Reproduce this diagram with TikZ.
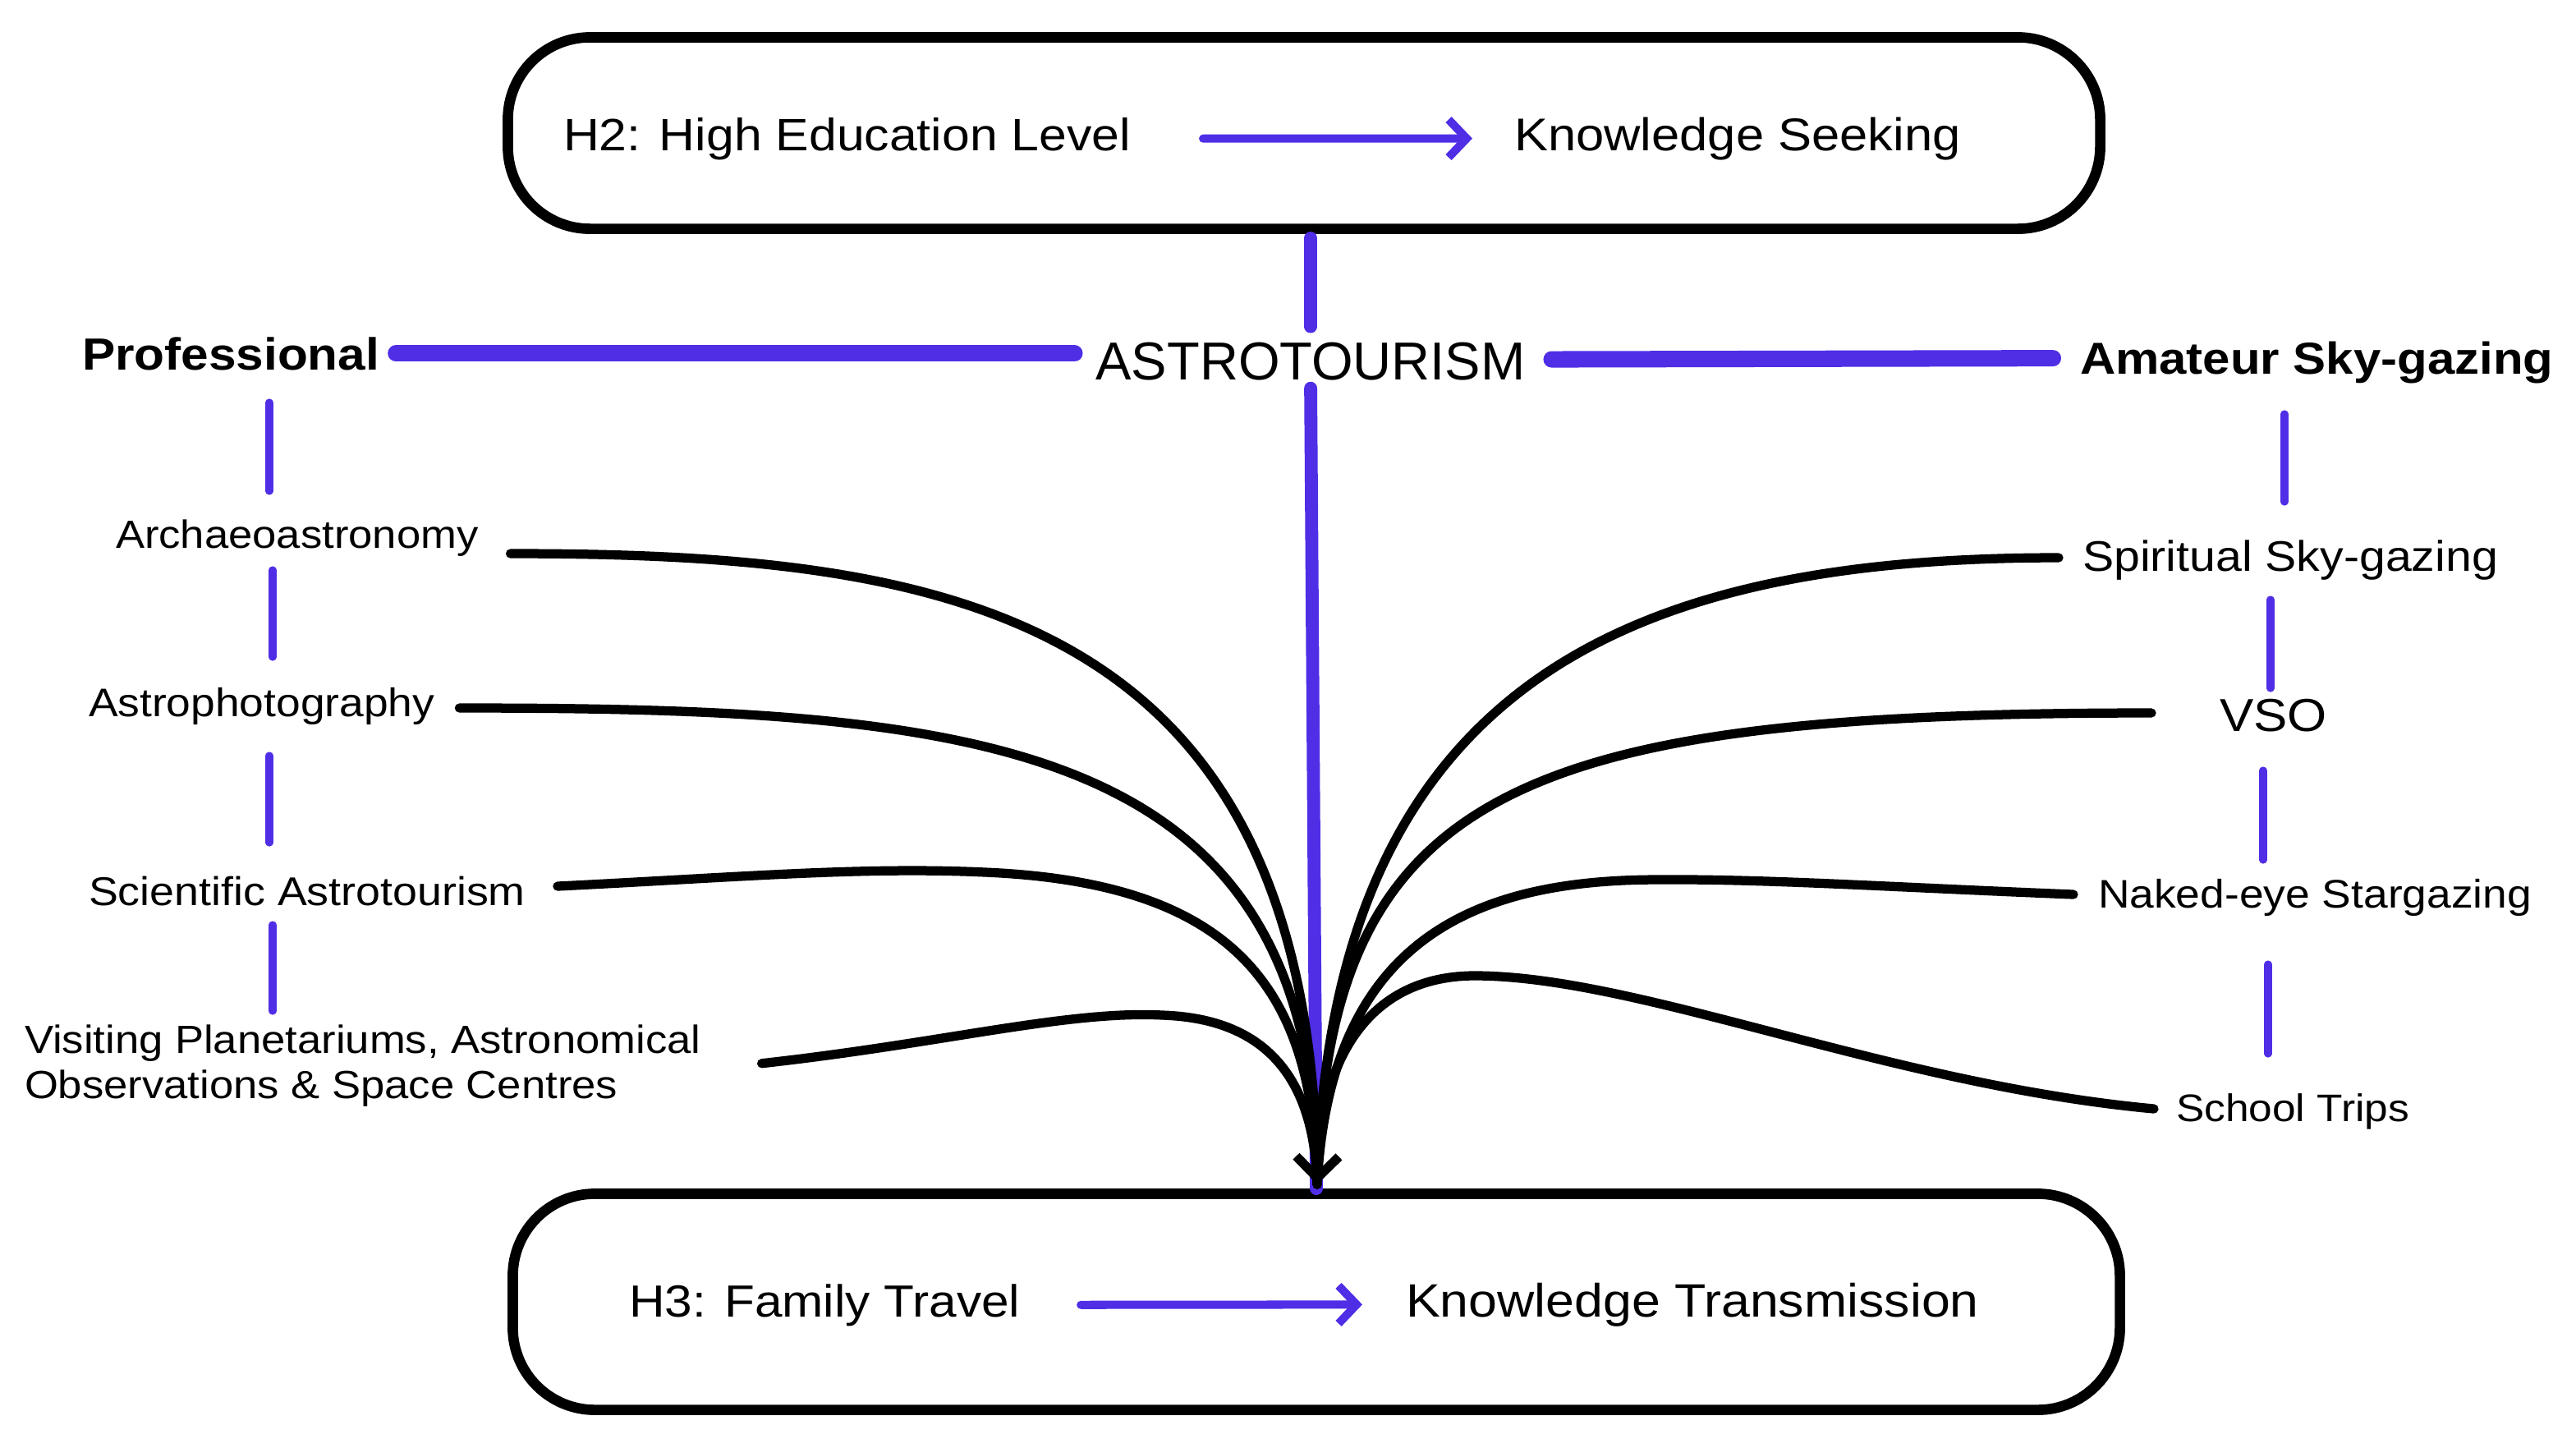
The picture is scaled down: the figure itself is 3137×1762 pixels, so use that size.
\documentclass[tikz,border=0pt]{standalone}
\usepackage{fontspec}
\setmainfont{Liberation Sans}[FakeStretch=1.1]
\usetikzlibrary{arrows.meta,calc}
\definecolor{vio}{RGB}{80,46,230}
\newcommand\fsz[1]{\fontsize{#1pt}{#1pt}\selectfont}
\begin{document}
\begin{tikzpicture}[x=0.01cm,y=-0.01cm,
  lbl/.style={inner sep=0pt,outer sep=0pt,anchor=base west},
  hbox/.style={draw=black,line width=3.6pt,rounded corners=1cm,inner sep=0pt},
  bigline/.style={draw=vio,line width=5.7pt,line cap=round},
  midline/.style={draw=vio,line width=4.5pt,line cap=round},
  vbar/.style={draw=vio,line width=2.6pt,line cap=round},
  feed/.style={draw=black,line width=3.2pt,line cap=round},
  barrow/.style={draw=vio,line width=2.85pt,line cap=round,-{Straight Barb[length=0.22cm,width=0.46cm]}},
  karrow/.style={-{Straight Barb[length=0.26cm,width=0.52cm]}},
]
\useasboundingbox (0,0) rectangle (3137,1762);

% boxes
\node[hbox,minimum width=19.38cm,minimum height=2.33cm] (top) at (1588,162) {};
\node[hbox,minimum width=19.56cm,minimum height=2.63cm] (bottom) at (1603,1585) {};

% box texts
\node[lbl,font=\fsz{15.7}] (h2) at (686,183) {H2: High Education Level};
\node[lbl,font=\fsz{15.9}] (ks) at (1844,183) {Knowledge Seeking};
\node[lbl,font=\fsz{15.6}] (h3) at (766,1603) {H3: Family Travel};
\node[lbl,font=\fsz{16.2}] (kt) at (1712,1603) {Knowledge Transmission};
\draw[barrow,shorten <=0.88cm,shorten >=0.51cm] (h2.east) -- (ks.west);
\draw[barrow,shorten <=0.74cm,shorten >=0.53cm] (h3.east) -- (kt.west);

% central labels
\node[inner sep=0pt,outer sep=0pt,anchor=base,font=\fontsize{18.5pt}{18.5pt}\selectfont\addfontfeatures{FakeStretch=1.0}] (astro) at (1596,462) {ASTROTOURISM};
\node[lbl,font=\bfseries\fsz{15.6}] (prof) at (100,450) {Professional};
\node[lbl,font=\bfseries\fsz{15.5}] (amat) at (2533,455) {Amateur Sky-gazing};

% left labels
\node[lbl,font=\fsz{13.6}] (arch) at (141,667) {Archaeoastronomy};
\node[lbl,font=\fsz{13.8}] (aphot) at (108,872) {Astrophotography};
\node[lbl,font=\fsz{13.9}] (sci) at (108,1102) {Scientific Astrotourism};
\node[inner sep=0pt,outer sep=0pt,anchor=north west,align=left,font=\fontsize{13.6pt}{15.6pt}\selectfont] (vis) at (30,1248) {Visiting Planetariums, Astronomical\\Observations \& Space Centres};

% right labels
\node[lbl,font=\fsz{14.8}] (spir) at (2536,695) {Spiritual Sky-gazing};
\node[lbl,font=\fsz{16}] (vso) at (2703,890) {VSO};
\node[lbl,font=\fsz{13.8}] (naked) at (2555,1105) {Naked-eye Stargazing};
\node[lbl,font=\fsz{13.3}] (school) at (2650,1365) {School Trips};

\coordinate (conv) at (1604,1442);

% blue structure
\draw[bigline,shorten <=0.2cm,shorten >=0.26cm] (prof.east) -- (prof.east -| astro.west);
\draw[bigline,shorten <=0.32cm,shorten >=0.33cm] ([yshift=0.02cm]astro.east) -- ([yshift=0.05cm]amat.west);
\draw[midline,shorten <=0.05cm,shorten >=0.19cm] (top.south -| astro.north) -- (astro.north);
\draw[midline,shorten <=0.1cm] (astro.south) -- (bottom.north);

% small vertical bars
\draw[vbar] (328,490) -- (328,598);
\draw[vbar] (332,694) -- (332,800);
\draw[vbar] (328,920) -- (328,1026);
\draw[vbar] (332,1126) -- (332,1231);
\draw[vbar] (2782,504) -- (2782,611);
\draw[vbar] (2765,730) -- (2765,838);
\draw[vbar] (2756,938) -- (2756,1047);
\draw[vbar] (2762,1174) -- (2762,1283);

% black feeders
\draw[feed] ($(arch.base east)+(39,7)$) .. controls (1150,674) and (1600,740) .. (conv);
\draw[feed] ($(aphot.base east)+(30,-10)$) .. controls (1200,862) and (1604,900) .. (conv);
\draw[feed] ($(sci.base east)+(39,-23)$) .. controls (900,1068) and (1050,1055) .. (1200,1062)
   .. controls (1500,1075) and (1600,1200) .. (conv);
\draw[feed] ($(vis.east)+(74,-3)$) .. controls (1150,1270) and (1300,1230) .. (1416,1236)
   .. controls (1530,1240) and (1600,1300) .. (conv);
\draw[feed] ($(spir.base west)+(-29,-16)$) .. controls (2000,679) and (1620,820) .. (conv);
\draw[feed] ($(vso.base west)+(-83,-22)$) .. controls (1850,868) and (1615,960) .. (conv);
\draw[feed] ($(naked.base west)+(-30,-16)$) .. controls (2300,1080) and (2150,1070) .. (2020,1071)
   .. controls (1800,1071) and (1620,1140) .. (conv);
\draw[feed,karrow] ($(school.base west)+(-27,-15)$) .. controls (2300,1320) and (2000,1190) .. (1800,1188)
   .. controls (1660,1186) and (1606,1300) .. (conv);
\end{tikzpicture}
\end{document}
